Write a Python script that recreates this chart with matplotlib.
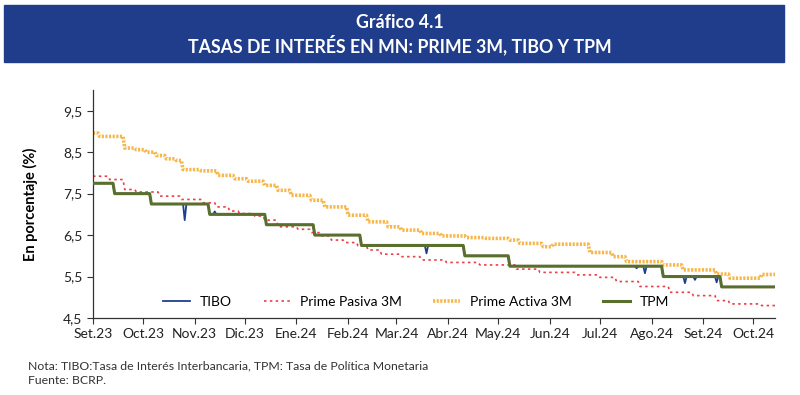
import numpy as np
import pandas as pd
import matplotlib
matplotlib.use("Agg")
import matplotlib.pyplot as plt
from matplotlib.patches import Rectangle

plt.rcParams['font.family'] = ['Lato', 'DejaVu Sans']

# --- data (step series: date the level starts, level) ---
end_date = "2024-10-14"

tpm_dates = ["2023-09-01", "2023-09-14", "2023-10-06", "2023-11-10", "2023-12-14",
             "2024-01-12", "2024-02-09", "2024-04-11", "2024-05-08", "2024-08-08",
             "2024-09-12"]
tpm_values = [7.75, 7.50, 7.25, 7.00, 6.75, 6.50, 6.25, 6.00, 5.75, 5.50, 5.25]

# TIBO follows TPM except on these days
tibo_dates = ["2023-10-26", "2023-11-13", "2024-03-19", "2024-07-23", "2024-07-28",
              "2024-08-21", "2024-08-27", "2024-09-09"]
tibo_values = [6.86, 7.07, 6.06, 5.70, 5.58, 5.34, 5.42, 5.36]

activa_dates = ["2023-09-01", "2023-09-05", "2023-09-20", "2023-09-27", "2023-10-03",
                "2023-10-09", "2023-10-15", "2023-10-21", "2023-10-25", "2023-11-05",
                "2023-11-15", "2023-11-25", "2023-12-03", "2023-12-13", "2023-12-21",
                "2023-12-29", "2024-01-10", "2024-01-18", "2024-02-01", "2024-02-13",
                "2024-02-25", "2024-03-04", "2024-03-16", "2024-03-28", "2024-04-12",
                "2024-04-24", "2024-05-08", "2024-05-14", "2024-05-28", "2024-06-03",
                "2024-06-25", "2024-07-09", "2024-07-17", "2024-08-08", "2024-08-20",
                "2024-09-09", "2024-09-17", "2024-10-06"]
activa_values = [8.96, 8.88, 8.60, 8.56, 8.50, 8.42, 8.34, 8.30, 8.08, 8.05,
                 7.94, 7.86, 7.80, 7.70, 7.58, 7.46, 7.34, 7.18, 6.98, 6.82,
                 6.70, 6.62, 6.54, 6.48, 6.44, 6.42, 6.38, 6.30, 6.22, 6.28,
                 6.08, 5.98, 5.86, 5.78, 5.66, 5.56, 5.46, 5.55]

pasiva_dates = ["2023-09-01", "2023-09-11", "2023-09-20", "2023-09-27", "2023-10-11",
                "2023-10-24", "2023-11-06", "2023-11-14", "2023-11-22", "2023-11-28",
                "2023-12-07", "2023-12-13", "2023-12-21", "2024-01-02", "2024-01-10",
                "2024-01-16", "2024-01-22", "2024-01-30", "2024-02-07", "2024-02-13",
                "2024-02-21", "2024-03-04", "2024-03-16", "2024-03-31", "2024-04-20",
                "2024-05-12", "2024-05-26", "2024-06-17", "2024-07-01", "2024-07-11",
                "2024-07-25", "2024-08-12", "2024-08-26", "2024-09-09", "2024-09-17",
                "2024-10-06"]
pasiva_values = [7.92, 7.84, 7.60, 7.54, 7.44, 7.36, 7.28, 7.18, 7.08, 7.02,
                 6.96, 6.86, 6.70, 6.64, 6.56, 6.48, 6.38, 6.32, 6.24, 6.14,
                 6.04, 5.98, 5.90, 5.84, 5.78, 5.68, 5.60, 5.54, 5.48, 5.38,
                 5.26, 5.12, 5.04, 4.92, 4.84, 4.80]

tick_labels = ["Set.23", "Oct.23", "Nov.23", "Dic.23", "Ene.24", "Feb.24", "Mar.24",
               "Abr.24", "May.24", "Jun.24", "Jul.24", "Ago.24", "Set.24", "Oct.24"]


def daily(dates, values):
    s = pd.Series(values, index=pd.to_datetime(dates))
    idx = pd.date_range(dates[0], end_date, freq="D")
    return s.reindex(idx).ffill()


tpm = daily(tpm_dates, tpm_values)
activa = daily(activa_dates, activa_values)
pasiva = daily(pasiva_dates, pasiva_values)
tibo = tpm.copy()
tibo[pd.to_datetime(tibo_dates)] = tibo_values

fig = plt.figure(figsize=(8, 3.95), dpi=100)

# header banner
fig.patches.append(Rectangle((4 / 800, 1 - 62 / 395), 780 / 800, 57 / 395,
                             transform=fig.transFigure, color="#1f3d8a", zorder=0))
fig.text(400 / 800, 1 - 23 / 395, "Gráfico 4.1", color="white", ha="center", va="center",
         fontsize=12.8, fontweight="bold")
fig.text(400 / 800, 1 - 45 / 395, "TASAS DE INTERÉS EN MN: PRIME 3M, TIBO Y TPM", color="white",
         ha="center", va="center", fontsize=12.8, fontweight="bold")

ax = fig.add_axes([93 / 800, 1 - 318 / 395, 682 / 800, 228 / 395])

ax.plot(tibo.index, tibo.values, color="#1f3f8f", lw=1.3, label="TIBO", zorder=3)
ax.plot(pasiva.index, pasiva.values, color="#e8404a", lw=1.2, ls=(0, (1.5, 2)),
        label="Prime Pasiva 3M", zorder=2)
ax.plot(activa.index, activa.values, color="#f7b64a", lw=2.6, ls=(0, (0.6, 0.4)),
        label="Prime Activa 3M", zorder=2)
ax.plot(tpm.index, tpm.values, color="#5a6e2e", lw=2.2, label="TPM", zorder=4)

ax.set_ylim(4.5, 10.0)
ax.set_yticks([4.5, 5.5, 6.5, 7.5, 8.5, 9.5])
ax.set_yticklabels(["4,5", "5,5", "6,5", "7,5", "8,5", "9,5"])
ticks = pd.date_range("2023-09-01", "2024-10-01", freq="MS")
ax.set_xticks(ticks)
ax.set_xticklabels(tick_labels)
ax.set_xlim(pd.Timestamp("2023-09-01"), pd.Timestamp(end_date))

for side in ["top", "right"]:
    ax.spines[side].set_visible(False)
for side in ["left", "bottom"]:
    ax.spines[side].set_color("#333333")
    ax.spines[side].set_linewidth(0.9)
ax.tick_params(direction="out", length=4, width=0.8, colors="#333333", labelsize=10,
               labelcolor="#222222")
ax.set_ylabel("En porcentaje (%)", fontsize=10.5, fontweight="bold", labelpad=18)

ax.legend(loc="lower left", bbox_to_anchor=(0.085, -0.01), ncol=4, frameon=False,
          fontsize=10, handlelength=1.9, handletextpad=0.7, columnspacing=2.3)

fig.text(28 / 800, 1 - 366 / 395, "Nota: TIBO:Tasa de Interés Interbancaria, TPM: Tasa de Política Monetaria",
         fontsize=8.8, color="#333333", va="center")
fig.text(28 / 800, 1 - 380 / 395, "Fuente: BCRP.", fontsize=8.8, color="#333333", va="center")

fig.savefig("out.png", dpi=100)
